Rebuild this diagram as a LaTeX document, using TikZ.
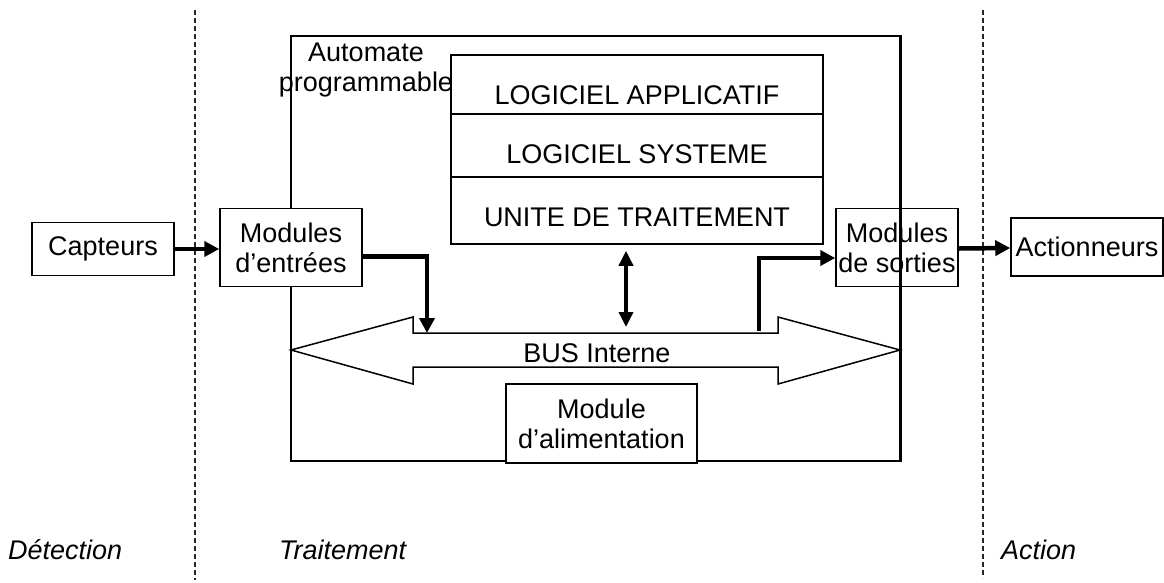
\documentclass[tikz,border=0pt]{standalone}
\usepackage{fontspec}
\setmainfont{Liberation Sans}
\usetikzlibrary{arrows.meta}
\begin{document}
\begin{tikzpicture}[x=1pt,y=-1pt,
  font=\fontsize{27}{30}\selectfont,
  box/.style={draw, line width=1.5pt, inner sep=0pt, align=center},
  cell/.style={draw, line width=1.5pt, inner sep=0pt, minimum width=372pt},
  lbl/.style={inner sep=0pt, anchor=base},
  bigarrow/.style={line width=4.5pt, -{Triangle[length=15pt,width=15pt]}},
  dblarrow/.style={line width=3.5pt, {Triangle[length=15pt,width=14pt]}-{Triangle[length=15pt,width=14pt]}},
  sep/.style={line width=1.2pt, draw=black!85, dash pattern=on 5pt off 3pt},
  phase/.style={inner sep=0pt, anchor=base west, font=\fontsize{27}{30}\selectfont\itshape}
]
\useasboundingbox (0,0) rectangle (1164,582);

% phase separators
\coordinate (s1top) at (195,10);
\coordinate (s1bot) at (195,580);
\coordinate (s2top) at (983,10);
\coordinate (s2bot) at (983,578);
\draw[sep] (s1top) -- (s1bot);
\draw[sep] (s2top) -- (s2bot);

% automate outer box
\node[draw, line width=2pt, inner sep=0pt, minimum width=609pt, minimum height=425pt] (plc) at (595.5,248.5) {};
\node[lbl, align=center] (plclbl) at (366,91.5) {Automate\\programmable};

% software / CPU stack
\node[cell, minimum height=59pt] (app) at (637,84.5) {};
\node[cell, minimum height=63pt] (sys) at (637,145.5) {};
\node[cell, minimum height=67pt] (cpu) at (637,210.5) {};
\node[lbl] (applbl) at (637,104) {LOGICIEL APPLICATIF};
\node[lbl] (syslbl) at (637,163) {LOGICIEL SYSTEME};
\node[lbl] (cpulbl) at (637,226) {UNITE DE TRAITEMENT};

% internal bus (outlined double arrow)
\draw[line width=1.5pt, line join=miter]
  (291,350) -- (413,317) -- (413,333) -- (778,333) -- (778,317) -- (900,350)
  -- (778,384) -- (778,367) -- (413,367) -- (413,384) -- cycle;
\node[lbl] (buslbl) at (597,362) {BUS Interne};
\coordinate (busin) at (427,333);
\coordinate (busout) at (759,331);
\coordinate (bustop) at (626,327);

% power module
\node[box, fill=white, minimum width=191pt, minimum height=79pt] (psu) at (601.5,423.5) {Module\\d’alimentation};

% field boxes
\node[box, minimum width=142pt, minimum height=53pt] (capt) at (103,249) {Capteurs};
\node[box, fill=white, minimum width=142pt, minimum height=78pt] (inmod) at (291,247.5) {Modules\\d’entrées};
\node[box, minimum width=122pt, minimum height=78pt] (outmod) at (897,247.5) {Modules\\de sorties};
\node[box, minimum width=152pt, minimum height=58pt] (act) at (1087,247) {Actionneurs};

% outer box edge drawn over the output module (as in the reference)
\draw[line width=2pt] (plc.north east) -- (plc.south east);

% connectors
\draw[bigarrow] (capt.east) -- (capt.east -| inmod.west);
\draw[bigarrow] ([yshift=-9pt]inmod.east) -| (busin);
\draw[dblarrow] ([yshift=-6pt]cpu.south -| bustop) -- (bustop);
\draw[bigarrow] (busout) |- ([yshift=-10.5pt]outmod.west);
\draw[bigarrow] ([yshift=-1pt]outmod.east) -- ([yshift=-1pt]act.west);

% phases
\node[phase] (det) at (8,559) {Détection};
\node[phase] (trt) at (279,559) {Traitement};
\node[phase] (acn) at (1001,559) {Action};
\end{tikzpicture}
\end{document}
